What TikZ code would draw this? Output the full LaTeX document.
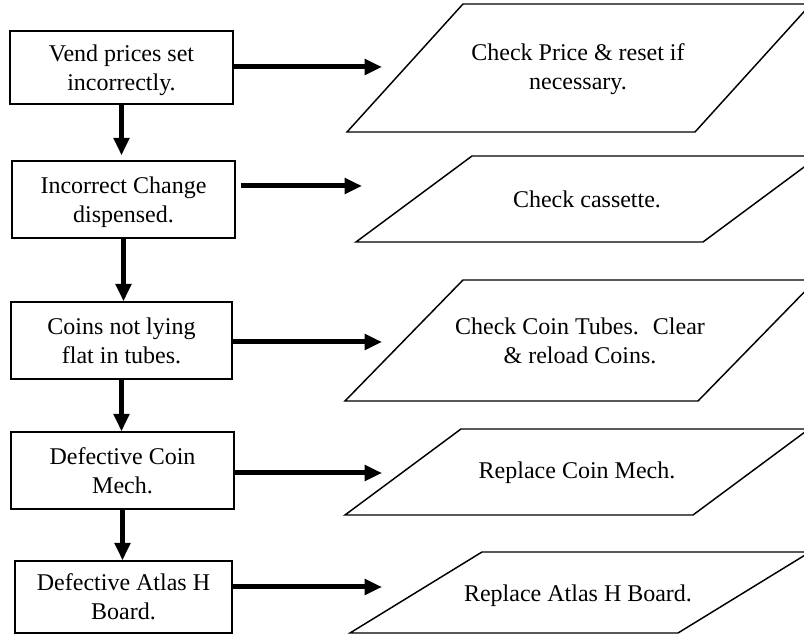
\documentclass[tikz,border=0pt]{standalone}
\usepackage{fontspec}
\setmainfont{Liberation Serif}
\usetikzlibrary{arrows.meta}

\begin{document}
\begin{tikzpicture}[x=0.75pt,y=0.75pt,yscale=-1,xscale=1,
  txt/.style={inner sep=0pt,align=center,font=\fontsize{18pt}{21.5pt}\selectfont,
    text height=34pt,text depth=-0.5pt},
  oneline/.style={text height=12.5pt},
  box/.style={txt,draw,line width=1.1pt},
  flow/.style={line width=3.75pt,-{Triangle[length=13pt,width=11.5pt]}},
  para/.style={line width=1.1pt,line join=miter}]
\useasboundingbox (0,0) rectangle (804,634);
\clip (0,0) rectangle (804,634);

%Shape: Rectangle
\node [box,minimum width=167.25pt,minimum height=54.75pt] (b1) at (121.5,67.5) {Vend prices set\\incorrectly.};
%Shape: Rectangle
\node [box,minimum width=167.25pt,minimum height=57.75pt] (b2) at (123.5,199.5) {Incorrect Change\\dispensed.};
%Shape: Rectangle
\node [box,minimum width=165.75pt,minimum height=57.75pt] (b3) at (121.5,340.5) {Coins not lying\\flat in tubes.};
%Shape: Rectangle
\node [box,minimum width=167.25pt,minimum height=57.75pt] (b4) at (122.5,470.5) {Defective Coin\\Mech.};
%Shape: Rectangle
\node [box,minimum width=162.75pt,minimum height=54pt] (b5) at (123.5,597) {Defective Atlas H\\Board.};

%Shape: Parallelogram
\draw [para] (347,132) -- (463,4) -- (811,4) -- (695,132) -- cycle ;
%Shape: Parallelogram
\draw [para] (356,242) -- (472,156) -- (819,156) -- (703,242) -- cycle ;
%Shape: Parallelogram
\draw [para] (345,401) -- (463,280) -- (816,280) -- (698,401) -- cycle ;
%Shape: Parallelogram
\draw [para] (345,515) -- (461,429) -- (809,429) -- (693,515) -- cycle ;
%Shape: Parallelogram
\draw [para] (350,633) -- (482,552) -- (810,552) -- (678,633) -- cycle ;

% Text Node
\node [txt] (r1) at (578,67) {Check Price \& reset if\\necessary.};
% Text Node
\node [txt,oneline] (r2) at (587,199) {Check cassette.};
% Text Node
\node [txt] (r3) at (580,341) {Check Coin Tubes.~ Clear\\\& reload Coins.};
% Text Node
\node [txt,oneline] (r4) at (577,470) {Replace Coin Mech.};
% Text Node
\node [txt,oneline] (r5) at (578,593) {Replace Atlas H Board.};

\coordinate (t1) at (382,67);
\coordinate (t2) at (362,186);
\coordinate (t3) at (382,342);
\coordinate (t4) at (382,473);
\coordinate (t5) at (382,587);

%Straight Lines
\draw [flow] (b1.east |- t1) -- (t1) ;
\draw [flow,shorten <=3.75pt] (b2.east |- t2) -- (t2) ;
\draw [flow] (b3.east |- t3) -- (t3) ;
\draw [flow] (b4.east |- t4) -- (t4) ;
\draw [flow] (b5.east |- t5) -- (t5) ;

%Straight Lines
\draw [flow,shorten >=3.75pt] (b1) -- (b1 |- b2.north) ;
\draw [flow] (b2) -- (b2 |- b3.north) ;
\draw [flow] (b3) -- (b3 |- b4.north) ;
\draw [flow] (b4) -- (b4 |- b5.north) ;

\end{tikzpicture}
\end{document}
